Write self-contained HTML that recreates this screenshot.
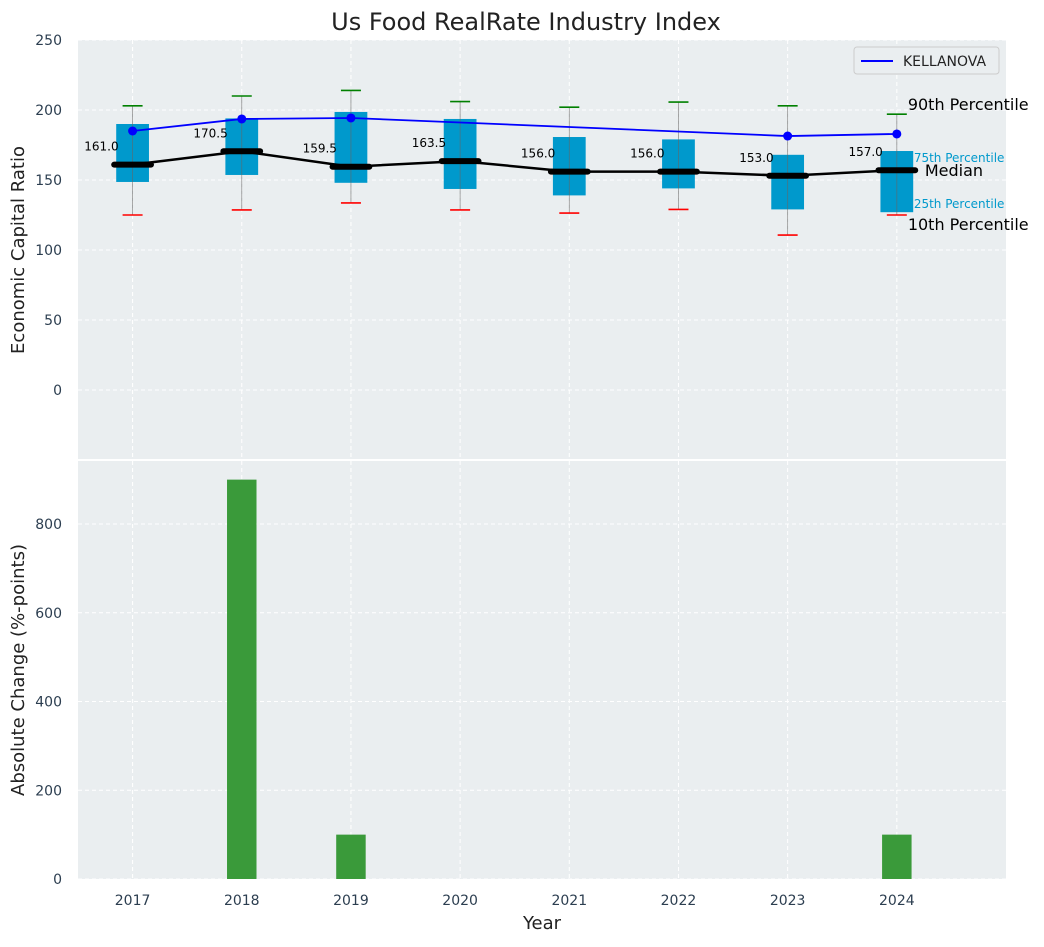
<!DOCTYPE html>
<html><head><meta charset="utf-8"><style>
body{margin:0;background:#fff;font-family:"Liberation Sans","DejaVu Sans",sans-serif;}
svg text{font-family:"DejaVu Sans","Liberation Sans",sans-serif;}
</style></head><body>
<svg id="chart" width="1044" height="942" xmlns="http://www.w3.org/2000/svg">
<text x="526" y="30" font-size="24" text-anchor="middle" fill="#222">Us Food RealRate Industry Index</text>
<rect x="78" y="40" width="928" height="419" fill="#eaeef0"/>
<rect x="78" y="461" width="928" height="418" fill="#eaeef0"/>
<g id="topg"></g><g id="botg"></g>
<text x="24" y="250" font-size="18" fill="#222" text-anchor="middle" transform="rotate(-90 24 250)">Economic Capital Ratio</text>
<text x="24" y="670" font-size="18" fill="#222" text-anchor="middle" transform="rotate(-90 24 670)">Absolute Change (%-points)</text>
<text x="542" y="929" font-size="18" fill="#222" text-anchor="middle">Year</text>
<g>
<rect x="854" y="47" width="145" height="27" fill="#eaeef0" stroke="#ccc" rx="3"/>
<line x1="861" y1="61" x2="893" y2="61" stroke="#0000ff" stroke-width="2"/>
<text x="903" y="66" font-size="14" fill="#222">KELLANOVA</text>
</g>
</svg>
<script>
const years=[2017,2018,2019,2020,2021,2022,2023,2024];
const p10=[125,128.6,133.6,128.6,126.4,129,110.7,125];
const p25=[148.6,153.6,148,143.6,139,144,129,127];
const median=[161.0,170.5,159.5,163.5,156.0,156.0,153.0,157.0];
const p75=[190,194,198.6,193.6,180.7,179,168,170.7];
const p90=[203,210,214,206,202,205.7,203,197];
const kellanova=[185,193.6,194.3,null,null,null,181.4,182.9];
const changes=[0,900,100,0,0,0,0,100];
const topTicks=[0,50,100,150,200,250];
const botTicks=[0,200,400,600,800];
const NS="http://www.w3.org/2000/svg";
const X=v=>78+(v-2016.5)/(8.5)*928;
const YT=v=>40+(250-v)/300*420;
const YB=v=>879-v*0.44375;
const gTop=document.getElementById('topg'),gBot=document.getElementById('botg');
function mk(p,t,a){const e=document.createElementNS(NS,t);for(const k in a)e.setAttribute(k,a[k]);p.appendChild(e);return e;}
topTicks.forEach(t=>{mk(gTop,'line',{x1:78,x2:1006,y1:YT(t),y2:YT(t),stroke:'#fff','stroke-dasharray':'4,3'});
 const tx=mk(gTop,'text',{x:62,y:YT(t)+5,'font-size':14,fill:'#2c3e50','text-anchor':'end'});tx.textContent=t;
 
 });
botTicks.forEach(t=>{mk(gBot,'line',{x1:78,x2:1006,y1:YB(t),y2:YB(t),stroke:'#fff','stroke-dasharray':'4,3'});
 const tx=mk(gBot,'text',{x:62,y:YB(t)+5,'font-size':14,fill:'#2c3e50','text-anchor':'end'});tx.textContent=t;
 
 });
years.forEach(y=>{mk(gTop,'line',{x1:X(y),x2:X(y),y1:40,y2:459,stroke:'#fff','stroke-dasharray':'4,3'});
 mk(gBot,'line',{x1:X(y),x2:X(y),y1:461,y2:879,stroke:'#fff','stroke-dasharray':'4,3'});
 const tx=mk(gBot,'text',{x:X(y),y:905,'font-size':14,fill:'#2c3e50','text-anchor':'middle'});tx.textContent=y;
 
 });
const bw=0.3*109.2;
years.forEach((y,i)=>{const x=X(y);
 const b=mk(gTop,'rect',{x:x-bw/2,y:YT(p75[i]),width:bw,height:YT(p25[i])-YT(p75[i]),fill:'#0099cc'});
 
 
 const w=mk(gTop,'line',{x1:x,x2:x,y1:YT(p90[i]),y2:YT(p10[i]),stroke:'#666','stroke-width':0.8,opacity:0.7});
 
 
 mk(gTop,'line',{x1:x-10,x2:x+10,y1:YT(p90[i]),y2:YT(p90[i]),stroke:'green','stroke-width':1.6});
 mk(gTop,'line',{x1:x-10,x2:x+10,y1:YT(p10[i]),y2:YT(p10[i]),stroke:'red','stroke-width':1.6});
 const m=mk(gTop,'line',{x1:x-bw/2-2,x2:x+bw/2+2,y1:YT(median[i]),y2:YT(median[i]),stroke:'#000','stroke-width':6,'stroke-linecap':'round'});
 
 
 const t=mk(gTop,'text',{x:x-14,y:YT(median[i])-14,'font-size':12,fill:'#000','text-anchor':'end'});t.textContent=median[i].toFixed(1);
 
 
});
const ml=mk(gTop,'polyline',{points:years.map((y,i)=>X(y)+','+YT(median[i])).join(' '),fill:'none',stroke:'#000','stroke-width':2.5});


const kp=years.map((y,i)=>kellanova[i]==null?null:X(y)+','+YT(kellanova[i])).filter(v=>v);
const kl=mk(gTop,'polyline',{points:kp.join(' '),fill:'none',stroke:'#0000ff','stroke-width':1.8});


years.forEach((y,i)=>{if(kellanova[i]==null)return;const c=mk(gTop,'circle',{cx:X(y),cy:YT(kellanova[i]),r:4.5,fill:'#0000ff'});
 
 });
const L=7,lx=X(years[L]);
[['90th Percentile',p90[L],16,'#000',lx+11,-4],['75th Percentile',p75[L],12,'#0099cc',lx+17,11],['Median',median[L],16,'#000',lx+28,6],['25th Percentile',p25[L],12,'#0099cc',lx+17,-4],['10th Percentile',p10[L],16,'#000',lx+11,15]].forEach(a=>{
 const t=mk(gTop,'text',{x:a[4],y:YT(a[1])+a[5],'font-size':a[2],fill:a[3]});t.textContent=a[0];
 
 });
const barW=0.27*109.2;
years.forEach((y,i)=>{if(!changes[i])return;const r=mk(gBot,'rect',{x:X(y)-barW/2,y:YB(changes[i]),width:barW,height:YB(0)-YB(changes[i]),fill:'#3a9a3a'});
 
 });
</script>
</body></html>
